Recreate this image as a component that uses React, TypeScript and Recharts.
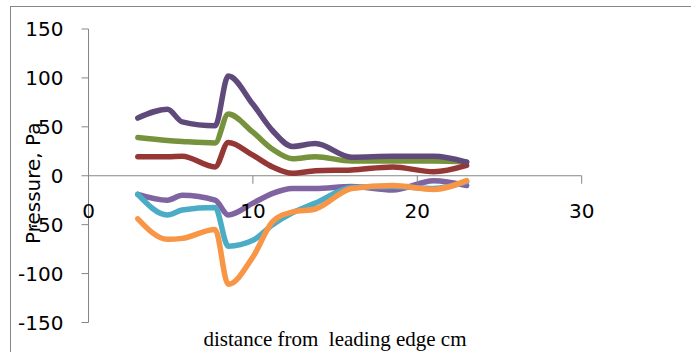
import { LineChart, Line, XAxis, YAxis, ReferenceLine, ReferenceDot } from "recharts";

// distance from leading edge (cm)
const distance = [3, 4.8, 5.7, 7.7, 8.5, 10, 11.2, 12.4, 13.8, 16, 18.5, 21, 23];

// pressure readings (Pa)
const upperHigh = [59, 68, 55, 51, 102, 73, 46, 30, 33, 19, 20, 20, 14];
const upperMid = [39, 36, 35, 33.5, 63, 44.5, 27, 17.5, 19.5, 15, 15, 15, 14];
const upperLow = [19.5, 19.5, 20, 9, 34, 21, 9, 2.5, 5, 6, 9, 4, 10.5];
const lowerLow = [-19, -25, -20, -25, -40, -28, -18, -13, -13, -11, -14.5, -5, -10];
const lowerMid = [-19, -40, -35, -32.5, -72, -66, -50, -38, -28, -12, -11, -13, -6];
const lowerHigh = [-44, -65, -64, -55, -111, -83, -47, -37, -34, -13, -10, -14, -5];

const yTicks = [-150, -100, -50, 0, 50, 100, 150];
const xTicks = [0, 10, 20, 30];

const series = [
  { key: "upperMid", values: upperMid, color: "#76923C" },
  { key: "upperLow", values: upperLow, color: "#953735" },
  { key: "upperHigh", values: upperHigh, color: "#604A7B" },
  { key: "lowerLow", values: lowerLow, color: "#8064A2" },
  { key: "lowerMid", values: lowerMid, color: "#4BACC6" },
  { key: "lowerHigh", values: lowerHigh, color: "#F79646" },
];

const rows = distance.map((x, i) => {
  const r: Record<string, number> = { x };
  series.forEach(s => (r[s.key] = s.values[i]));
  return r;
});

const AXIS = "#868686";
const SANS = "'DejaVu Sans', sans-serif";

export default function App() {
  return (
    <div style={{ position: "absolute", left: 0, top: 0, width: 691, height: 352, background: "#fff", overflow: "hidden" }}>
      {/* chart area frame */}
      <div style={{ position: "absolute", left: 10, top: 6, width: 720, height: 380, border: `1px solid ${AXIS}` }} />

      <div style={{ position: "absolute", left: 0, top: 0 }}>
        <LineChart
          width={691}
          height={352}
          data={rows}
          margin={{ top: 29, right: 109.3, bottom: 29.5, left: 8.5 }}
        >
          <XAxis dataKey="x" type="number" domain={[0, 30]} hide />
          <YAxis
            type="number"
            domain={[-150, 150]}
            ticks={yTicks}
            width={80}
            interval={0}
            tickSize={7}
            tickMargin={18}
            axisLine={{ stroke: AXIS }}
            tickLine={{ stroke: AXIS }}
            tick={{ fontSize: 20, fontFamily: SANS, fill: "#000" }}
          />
          <ReferenceLine y={0} stroke={AXIS} strokeWidth={1} />
          {series.map(s => (
            <Line
              key={s.key}
              dataKey={s.key}
              type="monotone"
              stroke={s.color}
              strokeWidth={5.5}
              strokeLinecap="round"
              strokeLinejoin="round"
              dot={false}
              activeDot={false}
              isAnimationActive={false}
            />
          ))}
          {xTicks.map(t => (
            <ReferenceDot
              key={t}
              x={t}
              y={0}
              ifOverflow="visible"
              shape={(p: any) => (
                <g>
                  {t !== 0 && (
                    <line x1={p.cx} y1={p.cy} x2={p.cx} y2={p.cy + 8} stroke={AXIS} strokeWidth={1} />
                  )}
                  <text
                    x={p.cx}
                    y={p.cy + 35}
                    textAnchor="middle"
                    dominantBaseline="central"
                    fontSize={20}
                    fontFamily={SANS}
                    fill="#000"
                  >
                    {t}
                  </text>
                </g>
              )}
            />
          ))}
        </LineChart>
      </div>

      {/* axis titles */}
      <svg width={691} height={352} style={{ position: "absolute", left: 0, top: 0, pointerEvents: "none" }}>
        <text
          x={40}
          y={183.3}
          transform="rotate(-90 40 183.3)"
          textAnchor="middle"
          fontSize={20}
          fontFamily={SANS}
          fill="#000"
        >
          Pressure, Pa
        </text>
        <text
          x={335}
          y={345.5}
          textAnchor="middle"
          fontSize={21}
          fontFamily="'Liberation Serif', 'Times New Roman', serif"
          fill="#000"
          style={{ whiteSpace: "pre" }}
        >
          distance from  leading edge cm
        </text>
      </svg>
    </div>
  );
}
